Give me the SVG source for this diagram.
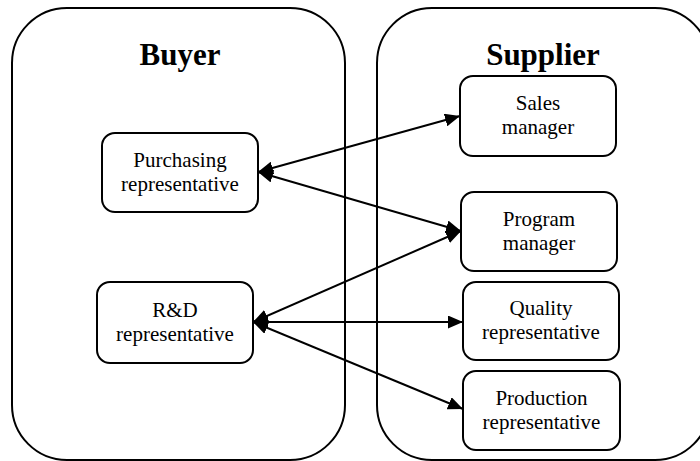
<svg xmlns="http://www.w3.org/2000/svg" width="700" height="461" viewBox="0 0 700 461">
  <style>
    .zone { fill: #ffffff; stroke: #000000; stroke-width: 2; }
    .box { fill: #ffffff; stroke: #000000; stroke-width: 2; }
    .title { font-family: "Liberation Serif", "Times New Roman", serif; font-size: 31px; font-weight: bold; text-anchor: middle; fill: #000000; }
    .label { font-family: "Liberation Serif", "Times New Roman", serif; font-size: 21px; text-anchor: middle; fill: #000000; }
    .link { fill: none; stroke: #000000; stroke-width: 2; marker-start: url(#head); marker-end: url(#head); }
  </style>
  <defs>
    <marker id="head" markerUnits="userSpaceOnUse" markerWidth="16" markerHeight="13" refX="15" refY="6.5" orient="auto-start-reverse">
      <path d="M0,0 L15,6.5 L0,13 z" fill="#000000"/>
    </marker>
  </defs>

  <rect width="700" height="461" fill="#ffffff"/>

  <!-- organisations -->
  <g id="buyer">
    <rect class="zone" x="12" y="8" width="333" height="452" rx="55" ry="55"/>
    <text class="title" x="180" y="65">Buyer</text>
  </g>
  <g id="supplier">
    <rect class="zone" x="377" y="8" width="333" height="452" rx="55" ry="55"/>
    <text class="title" x="543" y="65">Supplier</text>
  </g>

  <!-- buyer roles -->
  <g id="purchasing">
    <rect class="box" x="102" y="133" width="156" height="79" rx="13"/>
    <text class="label" x="180" y="166.5">Purchasing</text>
    <text class="label" x="180" y="190.5">representative</text>
  </g>
  <g id="rnd">
    <rect class="box" x="97" y="282" width="156" height="81" rx="13"/>
    <text class="label" x="175" y="316.5">R&amp;D</text>
    <text class="label" x="175" y="340.5">representative</text>
  </g>

  <!-- supplier roles -->
  <g id="sales">
    <rect class="box" x="460" y="76" width="156" height="80" rx="13"/>
    <text class="label" x="538" y="110">Sales</text>
    <text class="label" x="538" y="134">manager</text>
  </g>
  <g id="program">
    <rect class="box" x="461" y="192" width="156" height="79" rx="13"/>
    <text class="label" x="539" y="225.5">Program</text>
    <text class="label" x="539" y="249.5">manager</text>
  </g>
  <g id="quality">
    <rect class="box" x="463" y="282" width="156" height="78" rx="13"/>
    <text class="label" x="541" y="315">Quality</text>
    <text class="label" x="541" y="339">representative</text>
  </g>
  <g id="production">
    <rect class="box" x="463" y="371" width="157" height="79" rx="13"/>
    <text class="label" x="541.5" y="404.5">Production</text>
    <text class="label" x="541.5" y="428.5">representative</text>
  </g>

  <!-- two-way links -->
  <g id="connectors">
    <line class="link" x1="258" y1="172" x2="460" y2="116"/>
    <line class="link" x1="258" y1="172" x2="461" y2="231"/>
    <line class="link" x1="253" y1="322" x2="461" y2="231"/>
    <line class="link" x1="253" y1="322" x2="463" y2="322"/>
    <line class="link" x1="253" y1="322" x2="463" y2="409"/>
  </g>
</svg>
